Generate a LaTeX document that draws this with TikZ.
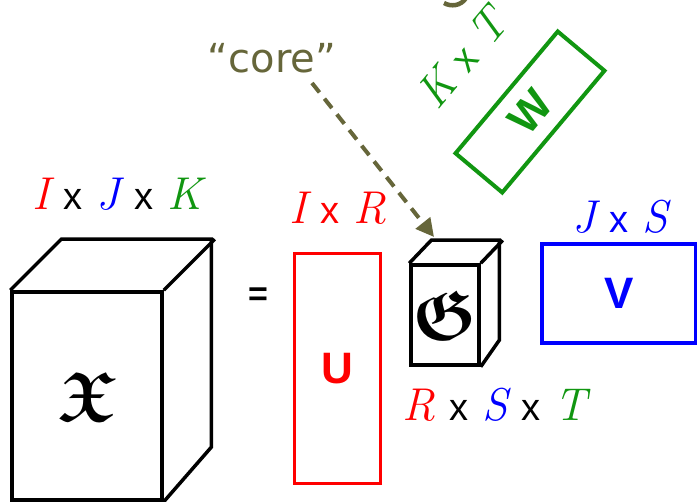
\documentclass[tikz,border=0pt]{standalone}
\usepackage{amsmath,amssymb,bm}
\usepackage{graphicx}
\usepackage{fontspec}
\setsansfont{Liberation Sans}
\newfontfamily\corefont{DejaVu Sans}
\usetikzlibrary{arrows.meta}
\definecolor{olivec}{RGB}{102,102,58}
\definecolor{greenc}{RGB}{17,150,17}
\definecolor{redc}{RGB}{255,0,0}
\definecolor{bluec}{RGB}{0,0,255}
\newcommand{\xx}{\hspace{14pt}{\sffamily\upshape\fontsize{38}{38}\selectfont x}\hspace{14pt}}
\begin{document}
\begin{tikzpicture}[x=1pt,y=-1pt,
  blk/.style={draw=black,line width=3.5pt,line join=miter,inner sep=0pt},
  lbl/.style={inner sep=0pt,font=\fontsize{46}{46}\selectfont\itshape},
  mat/.style={inner sep=0pt,line width=3.5pt,font=\fontsize{44}{44}\selectfont\sffamily\bfseries}]
\useasboundingbox (0,0) rectangle (697,502);
% big tensor X
\node[blk, minimum width=150pt, minimum height=208pt] (xf) at (87,396)
  {\scalebox{7}{$\boldsymbol{\mathfrak{X}}$}};
\draw[blk] (xf.north west) -- ++(51,-51) -- ++(150,0) -- ++(0,208) -- (xf.south east);
\draw[blk] (xf.north east) -- ++(51,-51);
\node[lbl] (xl) at (117,194) {\textcolor{redc}{I}\xx\textcolor{bluec}{J}\xx\textcolor{greenc}{K}};
% equals
\node[inner sep=0pt,font=\fontsize{34}{34}\selectfont\sffamily\bfseries] (eq) at (258,297) {=};
% U
\node[mat, draw=redc, line width=3pt, minimum width=86pt, minimum height=230pt, text=redc] (U) at (337,369) {U};
\node[lbl, text=redc] (ul) at (338,208) {I\xx R};
% core G
\node[blk, minimum width=68pt, minimum height=100pt] (gf) at (445,315)
  {\scalebox{7}{$\boldsymbol{\mathfrak{G}}$}};
\draw[blk] (gf.north west) -- ++(22,-23) -- ++(68,0) -- ++(0,100) -- (gf.south east);
\draw[blk] (gf.north east) -- ++(22,-23);
\node[lbl] (gl) at (495,405) {\textcolor{redc}{R}\xx\textcolor{bluec}{S}\xx\textcolor{greenc}{T}};
% V
\node[mat, draw=bluec, line width=4pt, minimum width=154pt, minimum height=99pt, text=bluec] (V) at (619,293.5) {V};
\node[lbl, text=bluec] (vl) at (620,217) {J\xx S};
% W
\node[mat, draw=greenc, line width=4pt, minimum width=159pt, minimum height=61pt, text=greenc, rotate=50] (W) at (530,112) {W};
\node[lbl, rotate=50, text=greenc] (wl) at (462,58) {K\xx T};
% core label and arrow
\node[inner sep=0pt, text=olivec, font=\fontsize{40}{40}\selectfont\corefont] (core) at (272,58) {“core”};
\coordinate (cs) at (312,83);
\coordinate (ct) at (434,237);
\draw[olivec, line width=4pt, dash pattern=on 12pt off 8pt, -{Triangle[length=18pt,width=18pt]}] (cs) -- (ct);
% cut-off glyph at top edge
\draw[olivec, line width=4.5pt] (444,3) .. controls (451,7) and (461,6) .. (466,-2);
\end{tikzpicture}
\end{document}
